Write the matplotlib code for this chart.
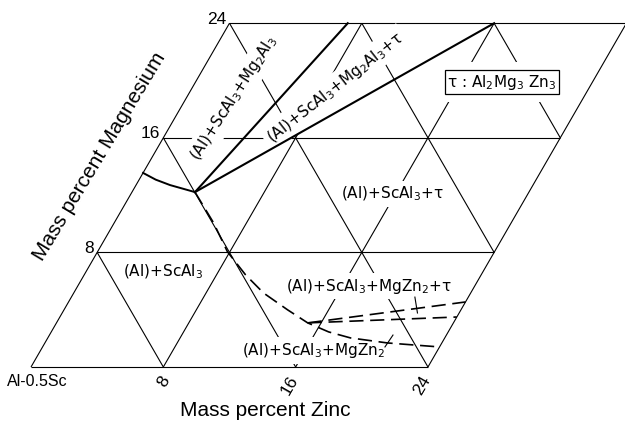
import numpy as np
import matplotlib
matplotlib.use("Agg")
import matplotlib.pyplot as plt

# ---------------- data (composition coordinates: wt.% Zn, wt.% Mg) ----------------
grid_ticks = [8, 16, 24]
zn_tick_labels = ["8", "16", "24"]
mg_tick_labels = ["8", "16", "24"]
vmax = 24
corner_label = "Al-0.5Sc"
x_title = "Mass percent Zinc"
y_title = "Mass percent Magnesium"

# solid solvus of (Al)
solid_zn = [0.0, 1.0, 2.06, 3.81]
solid_mg = [13.55, 13.08, 12.70, 12.21]
# tie lines from the invariant point
tie1_zn = [3.81, 7.15]
tie1_mg = [12.21, 24.0]
tie2_zn = [3.81, 16.0]
tie2_mg = [12.21, 24.0]
# dashed boundaries
dash_zn = [3.81, 6.0, 7.86, 9.76, 11.47, 13.52, 15.19, 16.77, 18.3, 20.7, 24.0]
dash_mg = [12.21, 10.07, 8.04, 6.43, 5.17, 3.99, 3.08, 2.45, 2.03, 1.68, 1.40]
upper_zn = [15.19, 24.0]
upper_mg = [3.08, 4.54]
middle_zn = [15.19, 24.0]
middle_mg = [3.08, 3.49]
# short leader marks
leaderA_zn = [20.77, 21.48]
leaderA_mg = [4.88, 3.77]
leaderB_zn = [20.70, 20.77]
leaderB_mg = [1.40, 2.23]

region_labels = [
    "(Al)+ScAl$_3$+Mg$_2$Al$_3$",
    "(Al)+ScAl$_3$+Mg$_2$Al$_3$+τ",
    "(Al)+ScAl$_3$+τ",
    "(Al)+ScAl$_3$",
    "(Al)+ScAl$_3$+MgZn$_2$+τ",
    "(Al)+ScAl$_3$+MgZn$_2$",
]
tau_label = "τ : Al$_2$Mg$_3$ Zn$_3$"

# ---------------- geometry ----------------
H = np.sqrt(3) / 2


def T(z, m):
    z = np.asarray(z, float)
    m = np.asarray(m, float)
    return z + 0.5 * m, H * m


fig = plt.figure(figsize=(6.25, 4.22), dpi=100)
ax = fig.add_axes([0, 0, 1, 1])
ax.axis("off")
S = 16.54
x0 = -31 / S
y0 = -55 / S
ax.set_xlim(x0, x0 + 625 / S)
ax.set_ylim(y0, y0 + 422 / S)

gk = dict(color="black", lw=0.8, zorder=1, solid_capstyle="butt")
levels = [0] + grid_ticks
# constant Zn lines
for z in levels:
    ax.plot(*T([z, z], [0, vmax]), **gk)
# constant Mg lines
for m in levels:
    ax.plot(*T([0, vmax], [m, m]), **gk)
# constant Zn+Mg lines
for s in range(grid_ticks[0], 2 * vmax, grid_ticks[0]):
    za, zb = max(0, s - vmax), min(vmax, s)
    ax.plot(*T([za, zb], [s - za, s - zb]), **gk)

# phase boundaries
ax.plot(*T(solid_zn, solid_mg), color="black", lw=1.4, zorder=5)
ax.plot(*T(tie1_zn, tie1_mg), color="black", lw=1.5, zorder=5)
ax.plot(*T(tie2_zn, tie2_mg), color="black", lw=1.5, zorder=5)
dk = dict(color="black", lw=1.2, zorder=5, dashes=(8.5, 4))
ax.plot(*T(dash_zn, dash_mg), **dk)
ax.plot(*T(upper_zn, upper_mg), **dk)
ax.plot(*T(middle_zn, middle_mg), **dk)
ax.plot(*T(leaderA_zn, leaderA_mg), color="black", lw=0.8, zorder=5)
ax.plot(*T(leaderB_zn, leaderB_mg), color="black", lw=0.8, zorder=5)

# region labels: (zn, mg, rotation)
label_pos = [
    (2.89, 18.77, 57),
    (8.63, 19.50, 38),
    (15.79, 12.07, 0),
    (4.67, 6.63, 0),
    (17.58, 5.65, 0),
    (16.49, 1.15, 0),
]
for txt, (z, m, r) in zip(region_labels, label_pos):
    x, y = T(z, m)
    ax.text(x, y, txt, rotation=r, ha="center", va="center",
            rotation_mode="anchor", fontsize=11, family="DejaVu Sans",
            zorder=3,
            bbox=dict(boxstyle="square,pad=0.25", fc="white", ec="none"))

# tau box with white halo
tx, ty = T(18.53, 19.89)
ax.text(tx, ty, tau_label, ha="center", va="center", fontsize=11,
        color="white", zorder=2,
        bbox=dict(boxstyle="square,pad=0.7", fc="white", ec="none"))
ax.text(tx, ty, tau_label, ha="center", va="center", fontsize=11, zorder=3,
        bbox=dict(boxstyle="square,pad=0.15", fc="white", ec="black", lw=0.9))

# tick labels
for t, lab in zip(grid_ticks, mg_tick_labels):
    ax.annotate(lab, T(0, t), xytext=(-3, 4), textcoords="offset pixels",
                ha="right", va="center", fontsize=12.5, family="Liberation Sans")
for t, lab in zip(grid_ticks, zn_tick_labels):
    n = len(lab) - 1
    ax.annotate(lab, T(t, 0), xytext=(-6 * n, -15 - 3 * n),
                textcoords="offset pixels", ha="center", va="center",
                rotation=60, fontsize=12.5, family="Liberation Sans")
ax.annotate(corner_label, T(0, 0), xytext=(6, -15), textcoords="offset pixels",
            ha="center", va="center", fontsize=11.5, family="Liberation Sans")

fig.text(265 / 625, 1 - 410 / 422, x_title, ha="center", va="center",
         fontsize=15, family="Liberation Sans")
fig.text(100 / 625, 1 - 157 / 422, y_title, ha="center", va="center",
         rotation=59, fontsize=15, family="Liberation Sans")

fig.savefig("out.png", dpi=100)
